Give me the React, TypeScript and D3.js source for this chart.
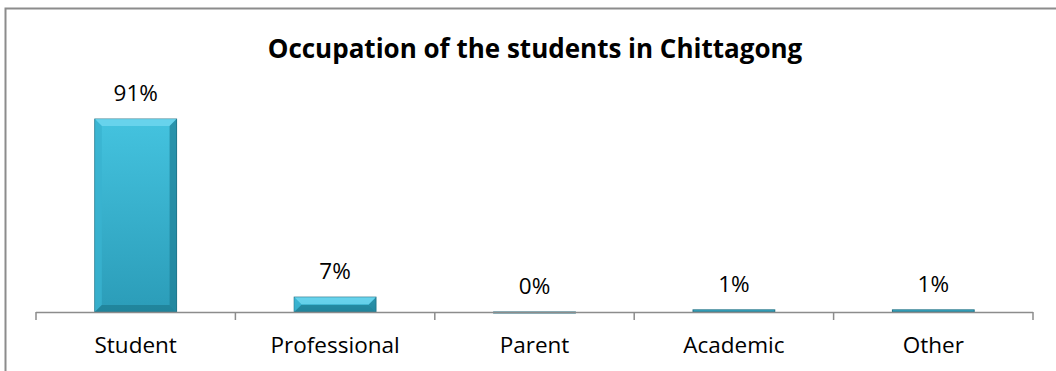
import React from "react";
import * as d3 from "d3";

const categories = ["Student", "Professional", "Parent", "Academic", "Other"];
const values = [91, 7, 0, 1, 1];
const labels = ["91%", "7%", "0%", "1%", "1%"];
const title = "Occupation of the students in Chittagong";

export default function App() {
  const W = 1056, H = 371;
  const x = d3.scaleBand<string>().domain(categories).range([36, 1033]).paddingInner(0.59).paddingOuter(0.295);
  const y = d3.scaleLinear().domain([0, 100]).range([312, 100]);
  const step = x.step();
  const ticks = d3.range(categories.length + 1).map((i) => 36 + i * step);
  const font = "'Open Sans', sans-serif";
  return (
    <svg width={W} height={H} style={{ position: "absolute", left: 0, top: 0 }}>
      <defs>
        <linearGradient id="barg" x1="0" y1="0" x2="0" y2="1">
          <stop offset="0" stopColor="#44c3df" />
          <stop offset="1" stopColor="#2b9cb8" />
        </linearGradient>
      </defs>
      <rect x={0} y={0} width={W} height={H} fill="#fff" />
      <rect x={5.5} y={8.5} width={W + 10} height={H + 10} fill="none" stroke="#8c8c8c" strokeWidth={2} />
      <text x={535} y={58} textAnchor="middle" fontFamily={font} fontWeight="bold" fontSize={26} fill="#000">{title}</text>
      {categories.map((c, i) => {
        const bx = x(c)!;
        const bw = x.bandwidth();
        const top = y(values[i]);
        const h = y(0) - top;
        const bev = Math.min(7, h / 2);
        return (
          <g key={c}>
            <rect x={bx} y={top} width={bw} height={Math.max(h, 1)} fill="url(#barg)" stroke="#1d6f83" strokeWidth={1} />
            {h > 4 && (
              <>
                <polygon points={`${bx},${top} ${bx + bw},${top} ${bx + bw - bev},${top + bev} ${bx + bev},${top + bev}`} fill="#6dd6ee" opacity={0.85} />
                <polygon points={`${bx + bw},${top} ${bx + bw},${top + h} ${bx + bw - bev},${top + h - bev} ${bx + bw - bev},${top + bev}`} fill="#1f7f96" opacity={0.7} />
                <polygon points={`${bx},${top} ${bx + bev},${top + bev} ${bx + bev},${top + h - bev} ${bx},${top + h}`} fill="#3ab3cf" opacity={0.8} />
                <polygon points={`${bx},${top + h} ${bx + bw},${top + h} ${bx + bw - bev},${top + h - bev} ${bx + bev},${top + h - bev}`} fill="#1c7a90" opacity={0.7} />
              </>
            )}
            <text x={bx + bw / 2} y={top - 18} textAnchor="middle" fontFamily={font} fontSize={22.5} fill="#000">{labels[i]}</text>
            <text x={bx + bw / 2} y={353} textAnchor="middle" fontFamily={font} fontSize={22.5} fill="#000">{c}</text>
          </g>
        );
      })}
      <line x1={36} x2={1033} y1={312.5} y2={312.5} stroke="#8c8c8c" strokeWidth={1.5} />
      {ticks.map((t, i) => (
        <line key={i} x1={t} x2={t} y1={312} y2={320} stroke="#8c8c8c" strokeWidth={1.5} />
      ))}
    </svg>
  );
}
